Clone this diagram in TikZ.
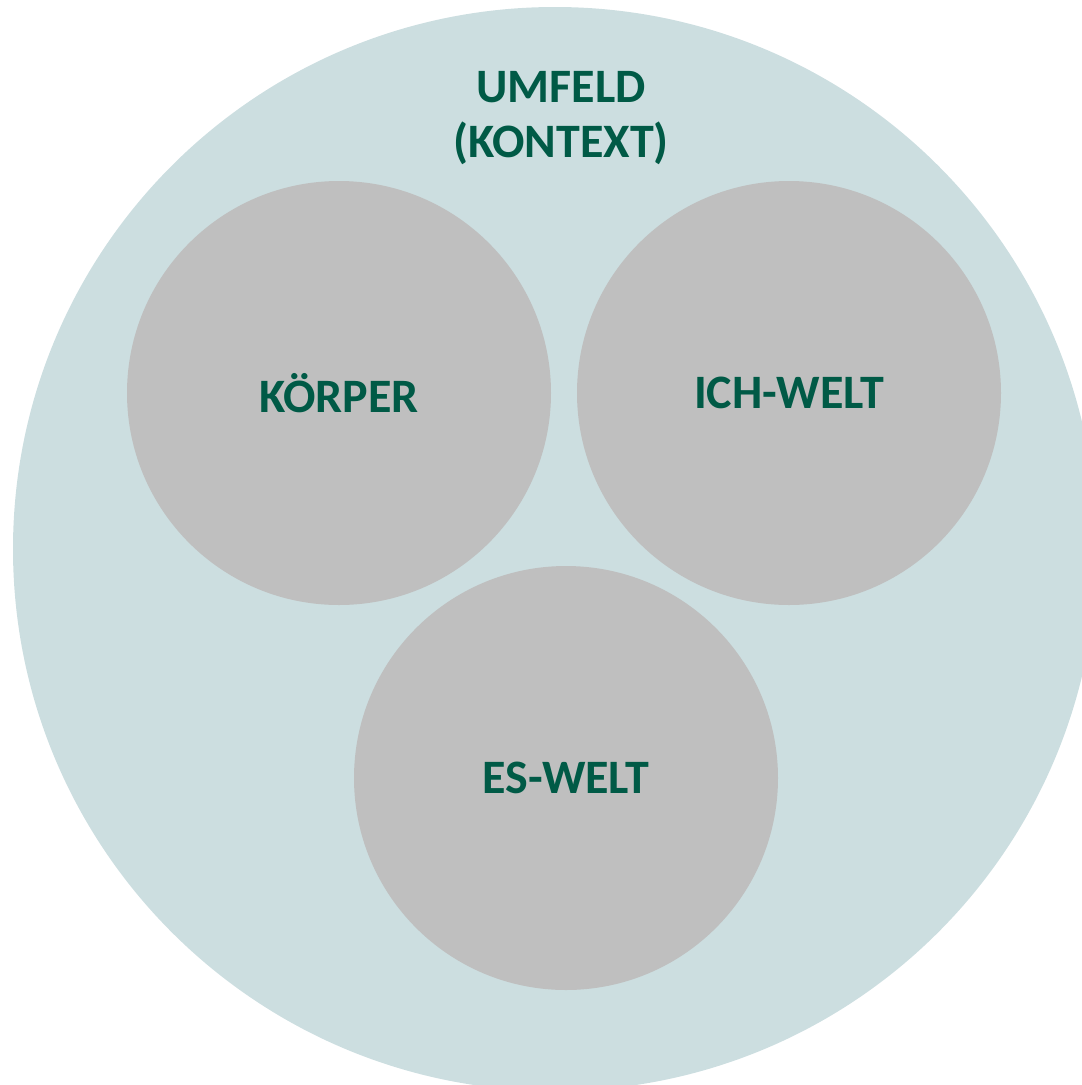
\documentclass[tikz,border=0pt]{standalone}
\usepackage{fontspec}
\setmainfont{Carlito}
\usepackage{tikz}
\usetikzlibrary{positioning}
\definecolor{umfeldfill}{HTML}{CCDEE0}
\definecolor{worldfill}{HTML}{BFBFBF}
\definecolor{labelgreen}{HTML}{005A46}
\tikzset{
  worldcircle/.style={
    circle, minimum size=424pt, inner sep=0pt, fill=worldfill,
    font=\fontsize{48}{54}\selectfont\bfseries, text=labelgreen
  },
  umfeldlabel/.style={
    align=center, font=\fontsize{48}{55}\selectfont\bfseries, text=labelgreen
  }
}
\begin{document}
\begin{tikzpicture}[x=1pt,y=-1pt]
\useasboundingbox (0,0) rectangle (1082,1085);
\clip (0,0) rectangle (1082,1085);
% outer context
\node[circle, minimum size=1084pt, inner sep=0pt, fill=umfeldfill] (umfeld) at (555,549) {};
\node[umfeldlabel] (umfeldtext) at (561,118) {UMFELD\\(KONTEXT)};
% three worlds
\node[worldcircle] (koerper) at (339,393) {KÖRPER};
\node[worldcircle] (ichwelt) at (789,393) {ICH-WELT};
\node[worldcircle] (eswelt) at (566,778) {ES-WELT};
\end{tikzpicture}
\end{document}
